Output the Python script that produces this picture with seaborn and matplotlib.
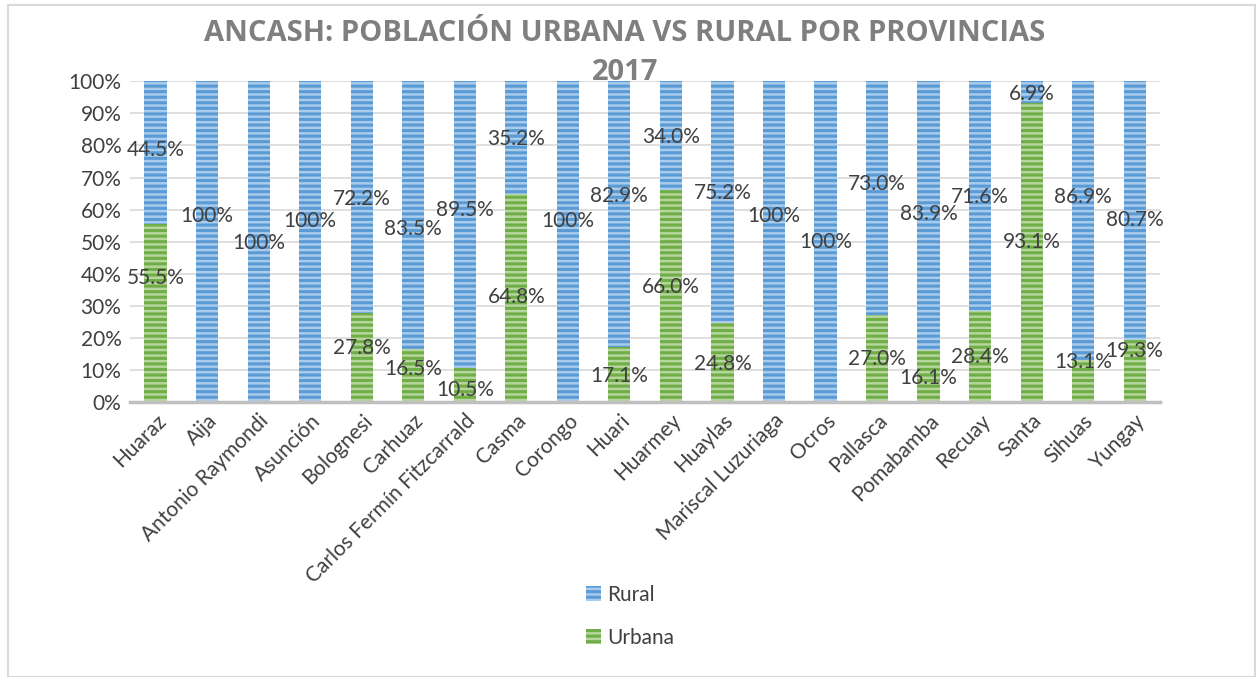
import pandas as pd
import matplotlib.pyplot as plt
import seaborn as sns
from matplotlib.patches import Rectangle, Patch

# --- DATA ---
provincias = ["Huaraz", "Aija", "Antonio Raymondi", "Asunción", "Bolognesi", "Carhuaz",
              "Carlos Fermín Fitzcarrald", "Casma", "Corongo", "Huari", "Huarmey", "Huaylas",
              "Mariscal Luzuriaga", "Ocros", "Pallasca", "Pomabamba", "Recuay", "Santa",
              "Sihuas", "Yungay"]
urbana = [55.5, 0, 0, 0, 27.8, 16.5, 10.5, 64.8, 0, 17.1, 66.0, 24.8, 0, 0, 27.0, 16.1,
          28.4, 93.1, 13.1, 19.3]
rural = [44.5, 100, 100, 100, 72.2, 83.5, 89.5, 35.2, 100, 82.9, 34.0, 75.2, 100, 100,
         73.0, 83.9, 71.6, 6.9, 86.9, 80.7]

# where the data labels sit (in % of the axis), they were dragged by hand in the original
rural_label_y = [78.7, 58.1, 49.6, 56.3, 63.3, 53.8, 60.0, 82.0, 56.6, 64.1, 82.5, 65.2,
                 58.1, 49.8, 67.9, 58.6, 63.8, 96.0, 63.8, 56.9]
urbana_label_y = [38.6, 0, 0, 0, 16.8, 10.3, 3.7, 32.7, 0, 8.1, 35.8, 11.8, 0, 0, 13.4,
                  7.5, 14.0, 49.8, 12.5, 15.9]

BLUE_LIGHT, BLUE_DARK = "#a9cbec", "#5b9bd5"
GREEN_LIGHT, GREEN_DARK = "#b5d69c", "#70ad47"
TXT = "#404040"
FS = 15

df = pd.DataFrame({"provincia": provincias, "Urbana": urbana, "Rural": rural})
df["total"] = df["Urbana"] + df["Rural"]

sns.set_style("white")
plt.rcParams["font.family"] = ["Lato", "DejaVu Sans"]
plt.rcParams["hatch.linewidth"] = 2.2

fig = plt.figure(figsize=(12.6, 6.77), dpi=100)
ax = fig.add_axes([0.103, 0.406, 0.818, 0.474])

# stacked: draw total (rural on top) then urbana over it
sns.barplot(data=df, x="provincia", y="total", color=BLUE_LIGHT, width=0.43,
            saturation=1, ax=ax)
n_rural = len(ax.patches)
sns.barplot(data=df, x="provincia", y="Urbana", color=GREEN_LIGHT, width=0.43,
            saturation=1, ax=ax)
for i, p in enumerate(ax.patches):
    dark = BLUE_DARK if i < n_rural else GREEN_DARK
    p.set_hatch("---")
    p.set_edgecolor(dark)
    p.set_linewidth(0)

# data labels
for i in range(len(provincias)):
    ax.text(i, rural_label_y[i], f"{rural[i]:.1f}%" if rural[i] < 100 else "100%",
            ha="center", va="center", fontsize=FS, color=TXT)
    if urbana[i] > 0:
        ax.text(i, urbana_label_y[i], f"{urbana[i]:.1f}%", ha="center", va="center",
                fontsize=FS, color=TXT)

ax.set_ylim(0, 100)
ax.set_xlim(-0.5, len(provincias) - 0.5)
ax.set_yticks(range(0, 101, 10))
ax.set_yticklabels([f"{v}%" for v in range(0, 101, 10)], fontsize=FS, color=TXT)
ax.set_xticks(range(len(provincias)))
ax.set_xticklabels(provincias, rotation=45, ha="right", rotation_mode="anchor",
                   fontsize=FS, color=TXT)
ax.tick_params(axis="both", length=0, pad=6)
ax.set_xlabel("")
ax.set_ylabel("")
ax.grid(axis="y", color="#d9d9d9", linewidth=1.2)
ax.set_axisbelow(True)
for s in ["top", "right", "left"]:
    ax.spines[s].set_visible(False)
ax.spines["bottom"].set_color("#bfbfbf")
ax.spines["bottom"].set_linewidth(2.5)

fig.text(0.496, 0.951, "ANCASH: POBLACIÓN URBANA VS RURAL POR PROVINCIAS",
         ha="center", va="center", fontsize=21, fontweight="bold", color="#7f7f7f",
         family=["Open Sans", "DejaVu Sans"])
fig.text(0.496, 0.893, "2017", ha="center", va="center", fontsize=21,
         fontweight="bold", color="#7f7f7f", family=["Open Sans", "DejaVu Sans"])

handles = [Patch(facecolor=BLUE_LIGHT, edgecolor=BLUE_DARK, hatch="---", linewidth=0),
           Patch(facecolor=GREEN_LIGHT, edgecolor=GREEN_DARK, hatch="---", linewidth=0)]
fig.legend(handles, ["Rural", "Urbana"], loc="center", bbox_to_anchor=(0.5, 0.09),
           ncol=1, frameon=False, fontsize=FS, labelspacing=1.1, handlelength=0.75,
           handleheight=0.75, handletextpad=0.3, labelcolor=TXT)

fig.patches.append(Rectangle((0.006, 0.0), 0.99, 0.992, transform=fig.transFigure,
                             fill=False, edgecolor="#d9d9d9", linewidth=1.5))

plt.savefig("out.png", dpi=100)
